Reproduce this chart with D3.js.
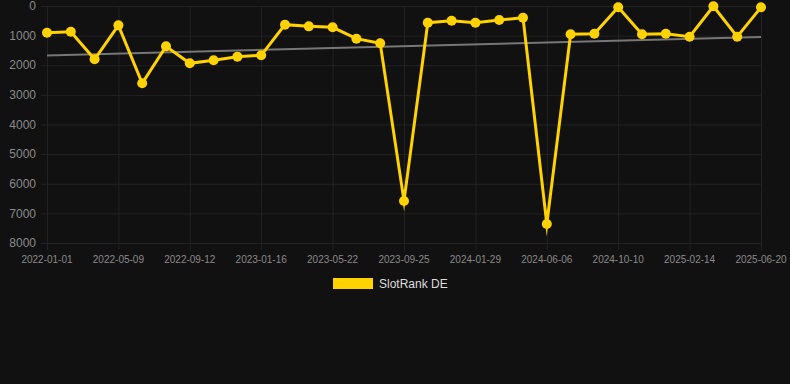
<!DOCTYPE html>
<html>
<head>
<meta charset="utf-8">
<script src="https://cdn.jsdelivr.net/npm/d3@7"></script>
<style>
  body { margin: 0; background: #111111; }
  svg { display: block; font-family: "Liberation Sans", Arial, sans-serif; }
</style>
</head>
<body>
<div id="chart"></div>
<script>
// Daten: ein Punkt etwa alle 6 Wochen
const dates = [
  "2022-01-01", "2022-02-12", "2022-03-26", "2022-05-09", "2022-06-20", "2022-08-01",
  "2022-09-12", "2022-10-24", "2022-12-05", "2023-01-16", "2023-02-27", "2023-04-10",
  "2023-05-22", "2023-07-03", "2023-08-14", "2023-09-25", "2023-11-06", "2023-12-18",
  "2024-01-29", "2024-03-11", "2024-04-23", "2024-06-06", "2024-07-18", "2024-08-29",
  "2024-10-10", "2024-11-21", "2025-01-02", "2025-02-14", "2025-03-28", "2025-05-09",
  "2025-06-20"
]
const rankDE = [
  900, 867, 1800, 653, 2610, 1362, 1935, 1834, 1710, 1665, 630, 687,
  720, 1103, 1260, 6580, 563, 496, 563, 473, 394, 7360, 956, 934,
  45, 956, 934, 1035, 10, 1035, 45
]
const xTickLabels = [
  "2022-01-01", "2022-05-09", "2022-09-12", "2023-01-16", "2023-05-22", "2023-09-25",
  "2024-01-29", "2024-06-06", "2024-10-10", "2025-02-14", "2025-06-20"
]
const yTicks = [0, 1000, 2000, 3000, 4000, 5000, 6000, 7000, 8000]
const seriesName = "SlotRank DE"

const width = 790
const height = 384
const plotL = 47, plotR = 761, plotT = 6, plotB = 243
const gold = "#ffd200"
const gridColor = "#222222"
const tickColor = "#8a8a8a"

const svg = d3.select("#chart")
  .append("svg")
  .attr("width", width)
  .attr("height", height)

svg.append("rect")
  .attr("width", width)
  .attr("height", height)
  .attr("fill", "#111111")

const x = d3.scalePoint().domain(dates).range([plotL, plotR]).padding(0)
const y = d3.scaleLinear().domain([0, 8000]).range([plotT, plotB])

// Gitter
svg.append("g")
  .selectAll("line")
  .data(yTicks)
  .enter()
  .append("line")
  .attr("x1", plotL - 6)
  .attr("x2", plotR)
  .attr("y1", d => y(d) + 0.5)
  .attr("y2", d => y(d) + 0.5)
  .attr("stroke", gridColor)

svg.append("g")
  .selectAll("line")
  .data(xTickLabels)
  .enter()
  .append("line")
  .attr("x1", d => x(d) + 0.5)
  .attr("x2", d => x(d) + 0.5)
  .attr("y1", plotT)
  .attr("y2", plotB + 7)
  .attr("stroke", gridColor)

// Y-Achse
svg.append("g")
  .selectAll("text")
  .data(yTicks)
  .enter()
  .append("text")
  .attr("x", 36)
  .attr("y", d => y(d))
  .attr("dy", "0.35em")
  .attr("text-anchor", "end")
  .attr("font-size", 12)
  .attr("fill", tickColor)
  .text(d => d)

// X-Achse
svg.append("g")
  .selectAll("text")
  .data(xTickLabels)
  .enter()
  .append("text")
  .attr("x", d => x(d))
  .attr("y", 259)
  .attr("dy", "0.35em")
  .attr("text-anchor", "middle")
  .attr("font-size", 10)
  .attr("fill", tickColor)
  .text(d => d)

// Trendlinie (lineare Regression)
const n = rankDE.length
const meanI = d3.mean(rankDE, (d, i) => i)
const meanV = d3.mean(rankDE)
const slope = d3.sum(rankDE, (d, i) => (i - meanI) * (d - meanV)) /
  d3.sum(rankDE, (d, i) => (i - meanI) * (i - meanI))
const trend = [0, n - 1].map(i => ({ date: dates[i], v: meanV + slope * (i - meanI) }))

svg.append("path")
  .datum(trend)
  .attr("fill", "none")
  .attr("stroke", "#777777")
  .attr("stroke-width", 2)
  .attr("d", d3.line().x(d => x(d.date)).y(d => y(d.v)))

// Datenlinie
const points = dates.map((d, i) => ({ date: d, v: rankDE[i] }))

svg.append("path")
  .datum(points)
  .attr("fill", "none")
  .attr("stroke", gold)
  .attr("stroke-width", 3)
  .attr("stroke-linejoin", "miter")
  .attr("stroke-miterlimit", 10)
  .attr("d", d3.line().x(d => x(d.date)).y(d => y(d.v)))

svg.append("g")
  .selectAll("circle")
  .data(points)
  .enter()
  .append("circle")
  .attr("cx", d => x(d.date))
  .attr("cy", d => y(d.v))
  .attr("r", 5)
  .attr("fill", gold)

// Legende
const legend = svg.append("g")
legend.append("rect")
  .attr("x", 333)
  .attr("y", 278)
  .attr("width", 40)
  .attr("height", 11)
  .attr("fill", gold)
legend.append("text")
  .attr("x", 379)
  .attr("y", 284)
  .attr("dy", "0.35em")
  .attr("font-size", 12)
  .attr("fill", "#dddddd")
  .text(seriesName)
</script>
</body>
</html>
